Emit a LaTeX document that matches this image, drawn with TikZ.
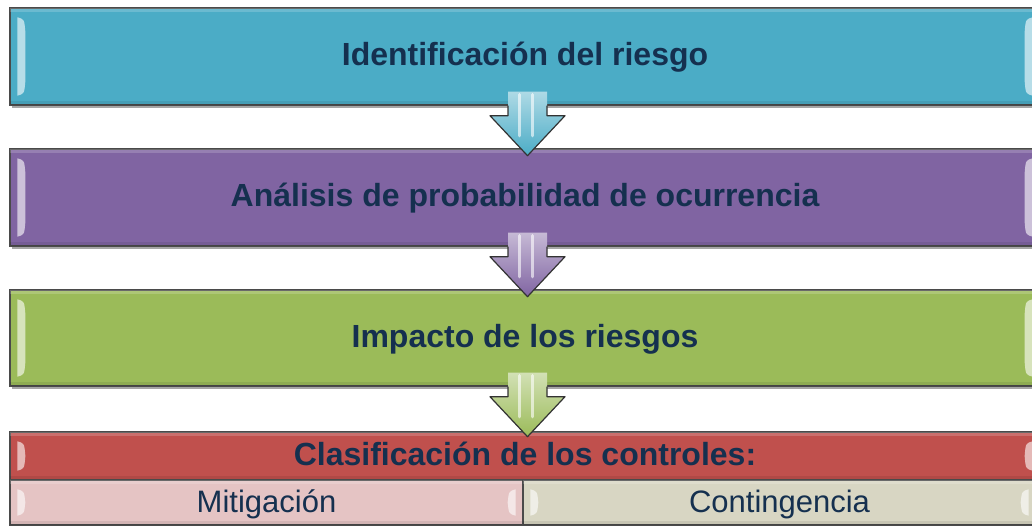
\documentclass[tikz,border=0pt]{standalone}
\usepackage{fontspec}
\setmainfont{Liberation Sans}
\usetikzlibrary{calc,shadows}
\definecolor{cblue}{HTML}{4BACC6}
\definecolor{cpurple}{HTML}{8064A2}
\definecolor{cgreen}{HTML}{9BBB59}
\definecolor{cred}{HTML}{C0504D}
\definecolor{cpink}{HTML}{E5C4C4}
\definecolor{cbeige}{HTML}{D8D6C3}
\definecolor{ctext}{HTML}{15304F}
\definecolor{cedge}{HTML}{4A4A4A}
\tikzset{
  x=1pt,y=1pt,
  stepbox/.style={draw=cedge, line width=1.4pt, minimum width=1030pt, inner sep=0pt,
    text=ctext, font=\fontsize{32}{38}\selectfont\bfseries, text height=23pt, text depth=4pt,
    drop shadow={shadow xshift=2pt, shadow yshift=-3pt, opacity=0.35, fill=black}},
  subbox/.style={draw=cedge, line width=1.4pt, minimum width=513pt, minimum height=45pt, inner sep=0pt,
    text=ctext, font=\fontsize{31}{36}\selectfont, text height=22pt, text depth=3pt},
  gloss/.style={fill=white, opacity=0.6},
  arrowline/.style={draw=black!80, line width=1.2pt, line join=round},
  stripe/.style={white, opacity=0.6, line width=3.5pt, line cap=round},
}
\newcommand{\glossbars}[1]{%
  \fill[gloss] ($(#1.north west)+(8,-10)$) .. controls ($(#1.north west)+(15,-12)$) .. ($(#1.north west)+(16,-24)$)
     -- ($(#1.south west)+(16,24)$) .. controls ($(#1.south west)+(15,12)$) .. ($(#1.south west)+(8,10)$) -- cycle;
  \fill[gloss] ($(#1.north east)+(-8,-10)$) .. controls ($(#1.north east)+(-15,-12)$) .. ($(#1.north east)+(-16,-24)$)
     -- ($(#1.south east)+(-16,24)$) .. controls ($(#1.south east)+(-15,12)$) .. ($(#1.south east)+(-8,10)$) -- cycle;
  \fill[white, opacity=0.18] ($(#1.north west)+(1,-1)$) rectangle ($(#1.north east)+(-1,-5)$);
  \fill[black, opacity=0.08] ($(#1.south west)+(1,1)$) rectangle ($(#1.south east)+(-1,5)$);
}
% arrow: #1 upper box, #2 colour, #3 light colour
\newcommand{\steparrow}[3]{%
  \coordinate (c) at ($(#1.south)+(2.5,0)$);
  \shade[top color=#3, bottom color=#2]
    ($(c)+(-19.5,14)$) -- ($(c)+(-19.5,-10)$) -- ($(c)+(-37.5,-10)$) -- ($(c)+(0,-50)$)
    -- ($(c)+(37.5,-10)$) -- ($(c)+(19.5,-10)$) -- ($(c)+(19.5,14)$) -- cycle;
  \draw[arrowline] ($(c)+(-19.5,0)$) -- ($(c)+(-19.5,-10)$) -- ($(c)+(-37.5,-10)$) -- ($(c)+(0,-50)$)
    -- ($(c)+(37.5,-10)$) -- ($(c)+(19.5,-10)$) -- ($(c)+(19.5,0)$);
  \draw[stripe] ($(c)+(-8,11)$) -- ($(c)+(-8,-30)$);
  \draw[stripe] ($(c)+(5,11)$) -- ($(c)+(5,-30)$);
}
\begin{document}
\begin{tikzpicture}
\useasboundingbox (0,0) rectangle (1032,527);
\fill[white] (0,0) rectangle (1032,527);

\node[stepbox, fill=cblue, minimum height=97pt] (b1) at (525,470.5) {Identificación del riesgo};
\glossbars{b1}
\node[stepbox, fill=cpurple, minimum height=97pt] (b2) at (525,329.5) {Análisis de probabilidad de ocurrencia};
\glossbars{b2}
\node[stepbox, fill=cgreen, minimum height=96pt] (b3) at (525,189) {Impacto de los riesgos};
\glossbars{b3}
\node[stepbox, fill=cred, minimum height=48pt] (b4) at (525,71) {Clasificación de los controles:};
\glossbars{b4}
\node[subbox, fill=cpink] (m) at (266.5,24.5) {Mitigación};
\glossbars{m}
\node[subbox, fill=cbeige] (k) at (779.5,24.5) {Contingencia};
\glossbars{k}

\steparrow{b1}{cblue}{cblue!45!white}
\steparrow{b2}{cpurple}{cpurple!45!white}
\steparrow{b3}{cgreen}{cgreen!45!white}
\end{tikzpicture}
\end{document}
